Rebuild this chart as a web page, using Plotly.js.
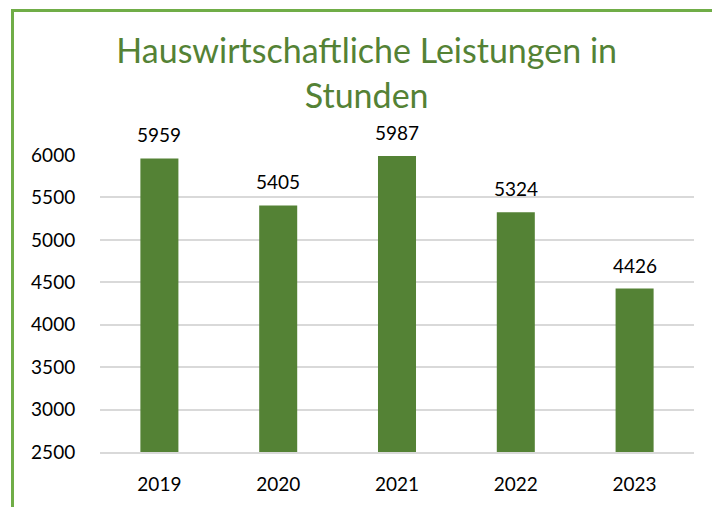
<!DOCTYPE html>
<html><head><meta charset="utf-8">
<script src="https://cdn.plot.ly/plotly-3.0.1.min.js"></script>
<style>
body{margin:0;padding:0;background:#fff;}
#wrap{position:relative;width:712px;height:507px;overflow:hidden;}
#frame{position:absolute;left:11px;top:9px;width:720px;height:520px;border-left:3px solid #70AD47;border-top:3px solid #70AD47;pointer-events:none;}
#chart{position:absolute;left:0;top:0;width:712px;height:507px;}
</style></head>
<body>
<div id="wrap"><div id="chart"></div><div id="frame"></div></div>
<script>
const years = ['2019','2020','2021','2022','2023'];
const hours = [5959, 5405, 5987, 5324, 4426];
const yTicks = [2500,3000,3500,4000,4500,5000,5500,6000];

const fontFam = 'Lato, "Open Sans", sans-serif';
const labels = years.map((y,i)=>({x:i, y:hours[i], xref:'x', yref:'y', text:String(hours[i]),
  showarrow:false, yanchor:'bottom', yshift:10, font:{size:19, color:'#000', family:fontFam}}));
Plotly.newPlot('chart', [{
  type:'bar', x:years, y:hours,
  marker:{color:'#548235'},
  width:0.32, hoverinfo:'none'
}], {
  width:712, height:507,
  margin:{l:100, r:18, t:155, b:55},
  paper_bgcolor:'#fff', plot_bgcolor:'#fff',
  font:{family:fontFam, color:'#000'},
  title:{text:'Hauswirtschaftliche Leistungen in<br>Stunden', font:{size:34, color:'#548235', family:fontFam},
    x:0.515, xref:'container', xanchor:'center', y:0.875, yref:'container', yanchor:'top'},
  xaxis:{type:'category', range:[-0.5,4.5], tickfont:{size:19}, ticks:'outside', ticklen:14, tickcolor:'rgba(0,0,0,0)',
    showline:true, linecolor:'#d9d9d9', linewidth:2, fixedrange:true},
  yaxis:{range:[2500,6000], tickvals:yTicks, tickfont:{size:19}, showgrid:true, gridcolor:'#d9d9d9', gridwidth:2,
    zeroline:false, showline:false, ticks:'outside', ticklen:20, tickcolor:'rgba(0,0,0,0)'},
  annotations:labels,
  bargap:0.68, showlegend:false
}, {displayModeBar:false, staticPlot:true});
</script>
</body></html>
